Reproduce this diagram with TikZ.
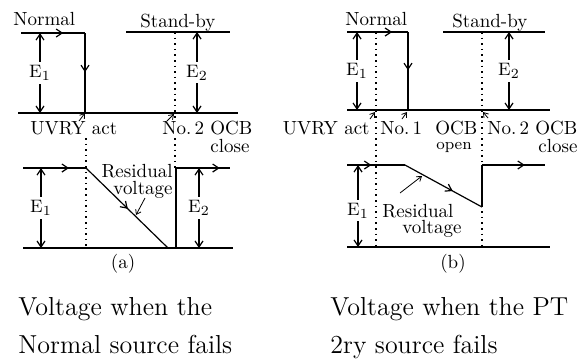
\documentclass[tikz,border=0pt]{standalone}
\usepackage{tikz}
\usetikzlibrary{arrows.meta,decorations.markings}

\begin{document}
\begin{tikzpicture}[
  x=0.5pt, y=-0.5pt,
  wave/.style={semithick},
  dotline/.style={line width=0.8pt, dotted},
  midarr/.style={postaction={decorate}, decoration={markings,
    mark=at position #1 with {\arrow{Straight Barb[length=3pt,width=4pt]}}}},
  varr/.style={{Straight Barb[length=3pt,width=4pt]}-{Straight Barb[length=3pt,width=4pt]}, semithick},
  ptr/.style={-{Straight Barb[length=2.2pt,width=3pt]}, thin},
  lab/.style={font=\fontsize{9.5}{11}\selectfont, inner sep=0pt},
  small/.style={font=\fontsize{8}{9}\selectfont, inner sep=0pt},
  elab/.style={font=\fontsize{9.5}{11}\selectfont, fill=white, inner sep=1.5pt},
  captxt/.style={font=\fontsize{13}{15}\selectfont, inner sep=0pt}
]
\useasboundingbox (0,0) rectangle (583,360);

% (a) voltage when the normal source fails
\coordinate (na1) at (21,33);
\coordinate (na2) at (85,33);
\coordinate (na3) at (85,113);
\coordinate (sa1) at (126,32);
\coordinate (sa2) at (230,32);
\coordinate (ba1) at (18,113);
\coordinate (ba2) at (238,113);
\coordinate (la1) at (23,168);
\coordinate (la2) at (86,168);
\coordinate (la3) at (168,248);
\coordinate (la4) at (176,248);
\coordinate (la5) at (176,168);
\coordinate (la6) at (230,168);
\coordinate (bb1) at (23,248);
\coordinate (bb2) at (233,248);

\draw[wave, midarr=.66] (na1) -- (na2);
\draw[wave, midarr=.49] (na2) -- (na3);
\draw[wave] (sa1) -- (sa2);
\draw[wave] (ba1) -- (ba2);
\draw[varr] (40,33) -- node[elab] {$\mathrm{E}_1$} (40,113);
\draw[varr] (197,32) -- node[elab] {$\mathrm{E}_2$} (197,113);
\draw[dotline] (175,32) -- (175,168);
\draw[dotline] (86,138) -- (86,248);

\node[lab, anchor=base west] (normala) at (13,25) {Normal};
\node[lab, anchor=base west] (standa) at (140,27) {Stand-by};
\node[lab, anchor=base west] (uvrya) at (30,134) {UVRY act};
\node[lab, anchor=base west, fill=white] (ocb2a) at (162,134) {No.\,2 OCB};
\node[lab, anchor=base east] (closea) at (250,152) {close};
\draw[ptr] (79,121) -- (na3);
\draw[ptr] (167,121) -- (174,114);

\draw[wave, midarr=.73] (la1) -- (la2);
\draw[wave, midarr=.51] (la2) -- (la3);
\draw[wave] (la4) -- (la5);
\draw[wave, midarr=.81] (la5) -- (la6);
\draw[wave] (bb1) -- (bb2);
\draw[varr] (41,168) -- node[elab] {$\mathrm{E}_1$} (41,248);
\draw[varr] (199,168) -- node[elab] {$\mathrm{E}_2$} (199,248);
\node[lab, anchor=base east] (resa) at (173,177) {Residual};
\node[lab, anchor=base east] (volta) at (173,194) {voltage};
\draw[ptr] (145,198) -- (136,215);
\node[lab, anchor=base] (capa) at (123,268) {(a)};

% (b) voltage when the PT 2ry source fails
\coordinate (nb1) at (347,32);
\coordinate (nb2) at (408,32);
\coordinate (nb3) at (408,110);
\coordinate (sb1) at (443,32);
\coordinate (sb2) at (545,32);
\coordinate (bt1) at (347,110);
\coordinate (bt2) at (550,110);
\coordinate (lb1) at (347,165);
\coordinate (lb2) at (405,165);
\coordinate (lb3) at (482,207);
\coordinate (lb4) at (482,165);
\coordinate (lb5) at (545,165);
\coordinate (bc1) at (347,247);
\coordinate (bc2) at (550,247);

\draw[wave, midarr=.74] (nb1) -- (nb2);
\draw[wave, midarr=.49] (nb2) -- (nb3);
\draw[wave] (sb1) -- (sb2);
\draw[wave] (bt1) -- (bt2);
\draw[varr] (357,32) -- node[elab] {$\mathrm{E}_1$} (357,110);
\draw[varr] (509,32) -- node[elab] {$\mathrm{E}_2$} (509,110);
\draw[dotline] (376,32) -- (376,247);
\draw[dotline] (482,32) -- (482,247);

\node[lab, anchor=base west] (normalb) at (345,25) {Normal};
\node[lab, anchor=base west] (standb) at (452,27) {Stand-by};
\node[lab, anchor=base east] (uvryb) at (370,134) {UVRY act};
\node[lab, anchor=base west] (no1b) at (380,134) {No.\,1};
\node[lab, anchor=base west] (ocb1b) at (435,134) {OCB};
\node[small, anchor=base] (openb) at (454,149) {open};
\node[lab, anchor=base west] (ocb2b) at (487,134) {No.\,2 OCB};
\node[lab, anchor=base east] (closeb) at (578,152) {close};
\draw[ptr] (370,119) -- (375,112);
\draw[ptr] (402,119) -- (407,112);
\draw[ptr] (488,118) -- (483,112);

\draw[wave, midarr=.42] (lb1) -- (lb2);
\draw[wave, midarr=.62] (lb2) -- (lb3);
\draw[wave] (lb3) -- (lb4);
\draw[wave, midarr=.68] (lb4) -- (lb5);
\draw[wave] (bc1) -- (bc2);
\draw[varr] (358,165) -- node[elab, pos=.56] {$\mathrm{E}_1$} (358,247);
\node[lab, anchor=base west] (resb) at (382,217) {Residual};
\node[lab, anchor=base west] (voltb) at (402,233) {voltage};
\draw[ptr] (400,193) -- (422,176);
\node[lab, anchor=base] (capb) at (453,268) {(b)};

% captions
\node[captxt, anchor=base west] (cap1a) at (18,315) {Voltage when the};
\node[captxt, anchor=base west] (cap2a) at (18,353) {Normal source fails};
\node[captxt, anchor=base west] (cap1b) at (330,315) {Voltage when the PT};
\node[captxt, anchor=base west] (cap2b) at (330,353) {2ry source fails};
\end{tikzpicture}
\end{document}
